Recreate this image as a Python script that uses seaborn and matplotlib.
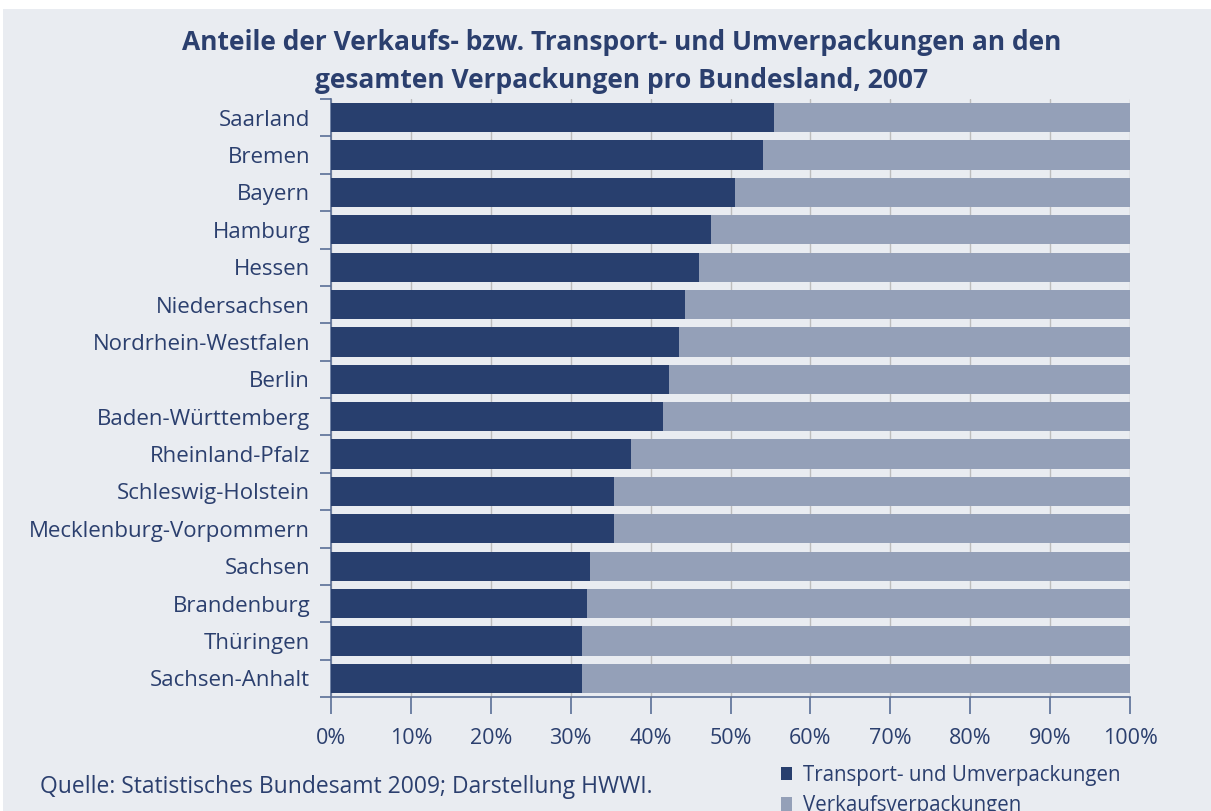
import matplotlib
matplotlib.use("Agg")
import matplotlib.pyplot as plt
import seaborn as sns
import pandas as pd
from matplotlib.patches import Rectangle, Patch
from matplotlib.ticker import PercentFormatter

laender = ["Saarland", "Bremen", "Bayern", "Hamburg", "Hessen", "Niedersachsen",
           "Nordrhein-Westfalen", "Berlin", "Baden-Württemberg", "Rheinland-Pfalz",
           "Schleswig-Holstein", "Mecklenburg-Vorpommern", "Sachsen", "Brandenburg",
           "Thüringen", "Sachsen-Anhalt"]
transport = [55.4, 54.1, 50.6, 47.6, 46.0, 44.3, 43.5, 42.3, 41.5, 37.6,
             35.4, 35.4, 32.4, 32.1, 31.4, 31.4]
verkauf = [44.6, 45.9, 49.4, 52.4, 54.0, 55.7, 56.5, 57.7, 58.5, 62.4,
           64.6, 64.6, 67.6, 67.9, 68.6, 68.6]
xticks = [0, 10, 20, 30, 40, 50, 60, 70, 80, 90, 100]
title_lines = ["Anteile der Verkaufs- bzw. Transport- und Umverpackungen an den",
               "gesamten Verpackungen pro Bundesland, 2007"]

df = pd.DataFrame({"Land": laender, "Transport": transport, "Verkauf": verkauf})
df["Gesamt"] = df["Transport"] + df["Verkauf"]

DARK = "#283F6E"
LIGHT = "#94A0B8"
BG = "#E9ECF1"
TXT = "#2B3F6E"
AX = "#5A6E96"

sns.set_theme(style="white")
plt.rcParams["font.family"] = ["Open Sans", "DejaVu Sans"]

fig = plt.figure(figsize=(12.11, 8.11), dpi=100, facecolor="white")
fig.patches.append(Rectangle((3 / 1211, 0), 1, 1 - 9 / 811, transform=fig.transFigure,
                             facecolor=BG, edgecolor="none", zorder=-10))
ax = fig.add_axes([331 / 1211, 1 - 697 / 811, (1130 - 331) / 1211, (697 - 99) / 811])
ax.set_facecolor(BG)

sns.barplot(data=df, y="Land", x="Gesamt", orient="h", color=LIGHT, width=0.78,
            saturation=1, ax=ax, zorder=3)
sns.barplot(data=df, y="Land", x="Transport", orient="h", color=DARK, width=0.78,
            saturation=1, ax=ax, zorder=4)
for p in ax.patches:
    p.set_edgecolor("none")

ax.set_xlim(0, 100)
ax.set_ylim(len(laender) - 0.5, -0.5)
ax.set_xticks(xticks)
ax.xaxis.set_major_formatter(PercentFormatter(decimals=0))
ax.set_xlabel("")
ax.set_ylabel("")
ax.grid(axis="x", color="#BDBDBD", linewidth=1.0, zorder=0)
ax.set_axisbelow(True)

for s in ["top", "right"]:
    ax.spines[s].set_visible(False)
for s in ["left", "bottom"]:
    ax.spines[s].set_color(AX)
    ax.spines[s].set_linewidth(1.2)

ax.tick_params(axis="x", which="major", direction="out", length=12, width=1.2,
               color=AX, labelcolor=TXT, labelsize=15.5, pad=10, bottom=True)
ax.tick_params(axis="y", which="major", length=0, labelcolor=TXT, labelsize=16, pad=15)
ax.set_yticks(range(len(laender)))
ax.set_yticklabels(laender)
ax.set_yticks([i - 0.5 for i in range(len(laender) + 1)], minor=True)
ax.tick_params(axis="y", which="minor", direction="out", length=8, width=1.2,
               color=AX, left=True)

for ty, line in zip([42, 80], title_lines):
    fig.text(622 / 1211, 1 - ty / 811, line, ha="center", va="center",
             fontsize=19, fontweight="bold", color=TXT)
fig.text(40 / 1211, 1 - 787 / 811, "Quelle: Statistisches Bundesamt 2009; Darstellung HWWI.",
         ha="left", va="center", fontsize=16.5, color=TXT)

handles = [Patch(facecolor=DARK, edgecolor="none", label="Transport- und Umverpackungen"),
           Patch(facecolor=LIGHT, edgecolor="none", label="Verkaufsverpackungen")]
leg = fig.legend(handles=handles, loc="upper left", bbox_to_anchor=(781 / 1211, 1 - 765 / 811),
                 frameon=False, fontsize=14.8, handlelength=0.55, handleheight=0.6,
                 handletextpad=0.5, labelspacing=0.45, borderaxespad=0, borderpad=0)
for t in leg.get_texts():
    t.set_color(TXT)

fig.savefig("out.png", dpi=100, facecolor="white")
